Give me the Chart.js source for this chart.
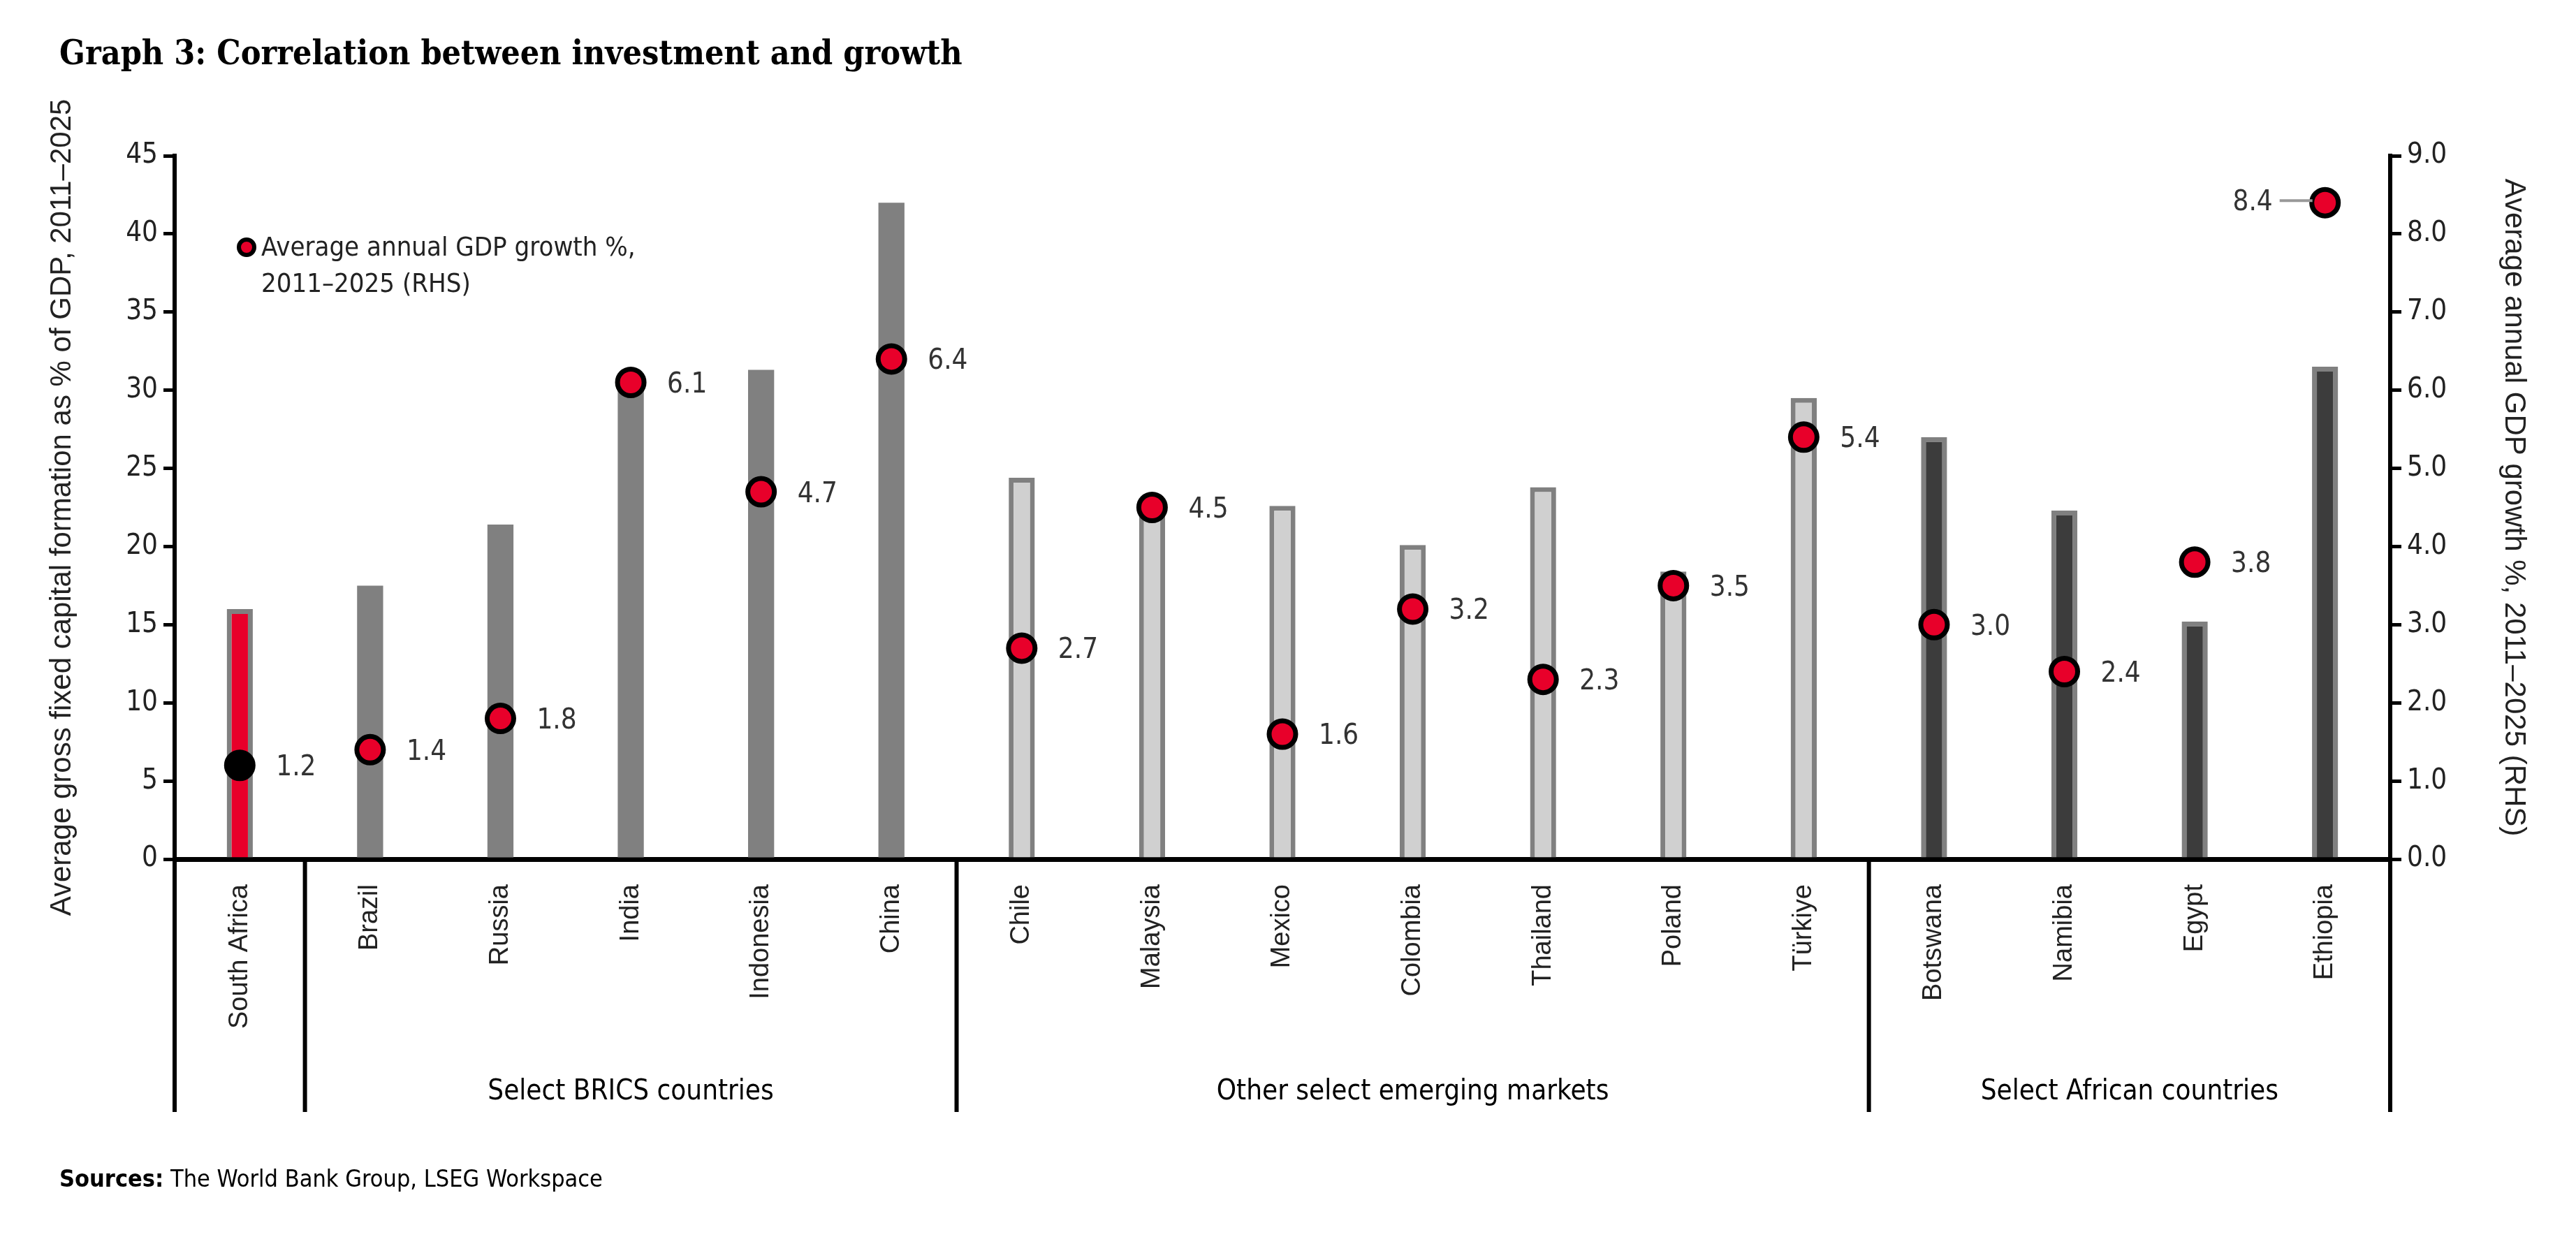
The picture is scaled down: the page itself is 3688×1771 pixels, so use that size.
<!DOCTYPE html>
<html><head><meta charset="utf-8">
<script src="https://cdn.jsdelivr.net/npm/chart.js@4"></script>
<style>html,body{margin:0;padding:0;background:#fff}#w{width:3688px;height:1771px;position:relative}</style>
</head><body><div id="w"><canvas id="c"></canvas></div>
<script>
const categories=["South Africa","Brazil","Russia","India","Indonesia","China","Chile","Malaysia","Mexico","Colombia","Thailand","Poland","Türkiye","Botswana","Namibia","Egypt","Ethiopia"];
const investment=[16,17.5,21.4,30.5,31.3,42,24.4,22.4,22.6,20.1,23.8,18.4,29.5,27,22.3,15.2,31.5];
const growth=[1.2,1.4,1.8,6.1,4.7,6.4,2.7,4.5,1.6,3.2,2.3,3.5,5.4,3.0,2.4,3.8,8.4];
const groups=[{name:"",from:0,to:0},{name:"Select BRICS countries",from:1,to:5},{name:"Other select emerging markets",from:6,to:12},{name:"Select African countries",from:13,to:16}];
const leftTicks=[0,5,10,15,20,25,30,35,40,45];
const rightTicks=[0,1,2,3,4,5,6,7,8,9];
const COND="'Liberation Sans Narrow','DejaVu Sans Condensed',sans-serif";
const groupOf=i=>groups.findIndex(g=>i>=g.from&&i<=g.to);
const fillCols=["#e8002a","#808080","#d0d0d0","#3c3c3c"];
const borderCols=["#808080","#808080","#808080","#808080"];
const deco={id:'deco',afterDraw(ch){
 const c=ch.ctx,x=ch.scales.x,a=ch.chartArea,y1=ch.scales.y1;
 c.save();
 c.fillStyle='#000';c.font="bold 48px 'DejaVu Serif Condensed','Liberation Serif',serif";c.textBaseline='middle';
 c.fillText("Graph 3: Correlation between investment and growth",85,80);
 c.font="bold 34px "+COND;const s="Sources:";c.fillText(s,85,1690);const sw=c.measureText(s).width;
 c.font="34px "+COND;c.fillText(" The World Bank Group, LSEG Workspace",85+sw,1690);
 // group lines
 const bot=1592;c.strokeStyle='#000';c.lineWidth=6;
 const step=x.getPixelForValue(1)-x.getPixelForValue(0);
 const bounds=[a.left,a.right];groups.slice(1).forEach(g=>bounds.push(x.getPixelForValue(g.from)-step/2));
 bounds.forEach(b=>{c.beginPath();c.moveTo(b,a.bottom);c.lineTo(b,bot);c.stroke();});
 c.font="40px "+COND;c.textAlign='center';
 groups.forEach(g=>{if(!g.name)return;const cx=(x.getPixelForValue(g.from)+x.getPixelForValue(g.to))/2;c.fillText(g.name,cx,1564);});
 // data labels
 c.font="40px "+COND;c.fillStyle='#333';
 const meta=ch.getDatasetMeta(0);
 meta.data.forEach((p,i)=>{const t=growth[i].toFixed(1);
  if(i===16){c.textAlign='right';c.fillText(t,p.x-75,p.y);c.strokeStyle='#999';c.lineWidth=4;c.beginPath();c.moveTo(p.x-65,p.y-3);c.lineTo(p.x-18,p.y-3);c.stroke();}
  else{c.textAlign='left';c.fillText(t,p.x+52,p.y+4);}
 });
 // legend
 c.beginPath();c.arc(353,354,11,0,Math.PI*2);c.fillStyle='#e8002a';c.fill();c.lineWidth=6;c.strokeStyle='#000';c.stroke();
 c.fillStyle='#222';c.textAlign='left';c.font="38px "+COND;
 c.fillText("Average annual GDP growth %,",374,356);c.fillText("2011–2025 (RHS)",374,408);
 c.restore();
}};
new Chart(document.getElementById('c'),{
 data:{labels:categories,datasets:[
  {type:'line',label:'GDP growth',data:growth,yAxisID:'y1',showLine:false,order:0,
   pointRadius:19,pointHoverRadius:19,pointBorderWidth:7,pointBorderColor:'#000',
   pointBackgroundColor:growth.map((v,i)=>i===0?'#000':'#e8002a')},
  {type:'bar',label:'Investment',data:investment,yAxisID:'y',order:1,
   backgroundColor:categories.map((c,i)=>fillCols[groupOf(i)]),
   borderColor:categories.map((c,i)=>i>=1&&i<=5?'rgba(0,0,0,0)':borderCols[groupOf(i)]),
   borderWidth:categories.map((c,i)=>i>=1&&i<=5?0:7),borderSkipped:'bottom',
   barPercentage:0.2,categoryPercentage:1}
 ]},
 options:{responsive:true,maintainAspectRatio:false,animation:false,
  layout:{padding:{left:60,right:60,top:223,bottom:179}},
  plugins:{legend:{display:false},tooltip:{enabled:false}},
  scales:{
   x:{grid:{display:false},border:{color:'#000',width:7},
    ticks:{maxRotation:90,minRotation:90,padding:28,color:'#222',font:{family:"'Liberation Sans',Arial,sans-serif",size:38}},
    afterFit:s=>{s.height=362;}},
   y:{position:'left',min:0,max:45,afterBuildTicks:s=>{s.ticks=leftTicks.map(v=>({value:v}));},
    grid:{drawOnChartArea:false,color:'#000',lineWidth:5,tickLength:16},border:{color:'#000',width:6},
    ticks:{color:'#222',padding:8,font:{family:COND,size:40}},
    title:{display:true,text:'Average gross fixed capital formation as % of GDP, 2011–2025',color:'#222',padding:{bottom:20},font:{family:"'Liberation Sans',Arial,sans-serif",size:42}},
    afterFit:s=>{s.width=190;}},
   y1:{position:'right',min:0,max:9,afterBuildTicks:s=>{s.ticks=rightTicks.map(v=>({value:v}));},
    grid:{drawOnChartArea:false,color:'#000',lineWidth:5,tickLength:16},border:{color:'#000',width:6},
    ticks:{color:'#222',padding:8,font:{family:COND,size:40},callback:v=>Number(v).toFixed(1)},
    title:{display:true,text:'Average annual GDP growth %, 2011–2025 (RHS)',color:'#222',font:{family:"'Liberation Sans',Arial,sans-serif",size:42}},
    afterFit:s=>{s.width=206;}}
  }},
 plugins:[deco]
});
</script></body></html>
